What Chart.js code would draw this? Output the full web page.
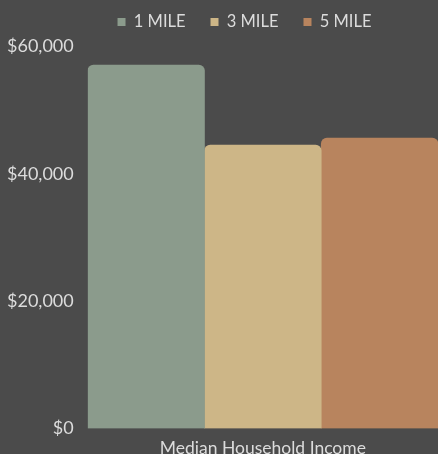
<!DOCTYPE html>
<html><head><meta charset="utf-8">
<script src="https://cdn.jsdelivr.net/npm/chart.js@4/dist/chart.umd.min.js"></script>
<style>html,body{margin:0;padding:0;background:#4b4b4b;}#wrap{width:438px;height:454px;}</style>
</head><body><div id="wrap"><canvas id="c"></canvas></div>
<script>
const categories = ['Median Household Income'];
const seriesNames = ['1 MILE', '3 MILE', '5 MILE'];
const mile1 = [57100];
const mile3 = [44500];
const mile5 = [45600];
const yTicks = [0, 20000, 40000, 60000];
const colors = ['#8b9b8c', '#cdb687', '#b8845e'];

Chart.defaults.font.family = 'Lato, "Open Sans", sans-serif';
Chart.defaults.color = '#dcdcdc';
const legendTweak = {
  id: 'legendTweak',
  beforeInit(chart) {
    const orig = chart.legend.fit;
    chart.legend.fit = function () { orig.call(this); this.height = 57.75; };
  },
  afterLayout(chart) {
    chart.legend.left += 29;
    chart.legend.right += 29;
  }
};
new Chart(document.getElementById('c'), {
  type: 'bar',
  data: {
    labels: categories,
    datasets: [mile1, mile3, mile5].map((d, i) => ({
      label: seriesNames[i], data: d, backgroundColor: colors[i],
      borderRadius: {topLeft: 6, topRight: 6, bottomLeft: 0, bottomRight: 0},
      borderSkipped: false,
      barPercentage: 1, categoryPercentage: 1
    }))
  },
  plugins: [legendTweak],
  options: {
    responsive: true, maintainAspectRatio: false, animation: false,
    layout: {padding: {left: -7, right: 0, top: -11.25, bottom: -14.5}},
    plugins: {
      legend: {position: 'top', align: 'center',
        labels: {boxWidth: 8, boxHeight: 8, padding: 25, color: '#dcdcdc', font: {size: 16.5}}},
      tooltip: {enabled: false}
    },
    scales: {
      x: {grid: {display: false, drawTicks: false}, border: {display: false},
          ticks: {color: '#dcdcdc', font: {size: 17.5}, padding: 9.5}},
      y: {min: 0, max: 60000, grid: {display: false, drawTicks: false}, border: {display: false},
          afterBuildTicks: s => { s.ticks = yTicks.map(v => ({value: v})); },
          ticks: {color: '#dcdcdc', font: {size: 18}, padding: 14,
            callback: v => '$' + v.toLocaleString('en-US')}}
    }
  }
});
</script></body></html>
